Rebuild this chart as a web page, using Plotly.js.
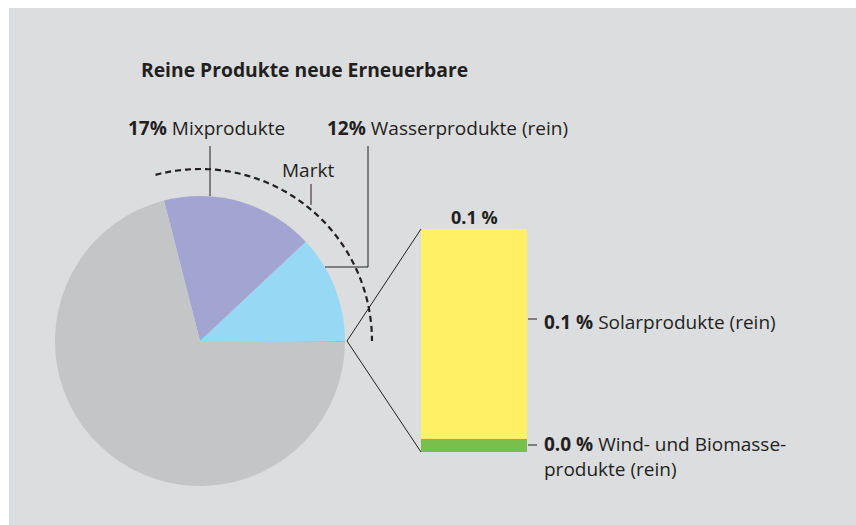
<!DOCTYPE html>
<html>
<head>
<meta charset="utf-8">
<script src="https://cdn.plot.ly/plotly-3.0.1.min.js"></script>
<style>html,body{margin:0;padding:0;background:#fff;}#chart{width:856px;height:525px;}</style>
</head>
<body>
<div id="chart"></div>
<script>
// ---- data ----
const pieLabels = ["Solar/Wind/Biomasse (rein)", "Wasserprodukte (rein)", "Mixprodukte", "Übriger Markt"];
const pieValues = [0.1, 12, 17, 70.9];
const pieColors = ["#f4a64a", "#97d9f4", "#a2a5d1", "#c4c5c7"];

const barCategory = ["0.1 %"];
const barSeries = ["Wind- und Biomasseprodukte (rein)", "Solarprodukte (rein)"];
const barValues = [0.006, 0.094];
const barColors = ["#79bf4c", "#fff066"];

const W = 856, H = 525;
const px = x => x / W;
const py = y => 1 - y / H;
const ink = "#231f20";
const FONT = "Open Sans, Noto Sans, sans-serif";

const traces = [
  {
    type: "pie",
    values: pieValues,
    labels: pieLabels,
    marker: {colors: pieColors, line: {width: 0}},
    sort: false,
    direction: "counterclockwise",
    rotation: 90,
    textinfo: "none",
    hoverinfo: "none",
    domain: {x: [px(55), px(345)], y: [py(486), py(196)]},
    showlegend: false
  }
];
barSeries.forEach((name, i) => {
  traces.push({
    type: "bar",
    x: [0],
    y: [barValues[i]],
    width: [1],
    name: name,
    marker: {color: barColors[i], line: {width: 0}},
    hoverinfo: "none",
    showlegend: false,
    xaxis: "x",
    yaxis: "y"
  });
});

// dashed "Markt" arc around the pie
const cx = 200, cy = 341, rArc = 172;
let arcPath = "";
for (let a = 105; a >= 0; a -= 1.5) {
  const t = a * Math.PI / 180;
  const x = cx + rArc * Math.cos(t), y = cy - rArc * Math.sin(t);
  arcPath += (arcPath ? " L " : "M ") + px(x).toFixed(5) + "," + py(y).toFixed(5);
}

const line = (x0, y0, x1, y1, extra) => Object.assign({
  type: "line", xref: "paper", yref: "paper",
  x0: px(x0), y0: py(y0), x1: px(x1), y1: py(y1),
  line: {color: ink, width: 1}
}, extra || {});

const shapes = [
  {type: "rect", xref: "paper", yref: "paper", x0: px(9), x1: 1, y0: 0, y1: py(8),
   fillcolor: "#dcdddf", line: {width: 0}, layer: "below"},
  {type: "path", xref: "paper", yref: "paper", path: arcPath,
   line: {color: ink, width: 2.2, dash: "6px,4px"}},
  line(210, 146, 210, 196),
  line(368, 146, 368, 267),
  line(368, 267, 325, 267),
  line(311, 184, 311, 205),
  line(347, 341, 421, 229),
  line(347, 341, 421, 452),
  line(528, 319, 537, 319),
  line(528, 445, 537, 445)
];

const ann = (x, y, text, size, anchor) => ({
  xref: "paper", yref: "paper", x: px(x), y: py(y), text: text,
  showarrow: false, xanchor: anchor || "left", yanchor: "middle",
  font: {family: FONT, size: size || 19, color: ink}
});

const annotations = [
  ann(139, 70, "<b>Reine Produkte neue Erneuerbare</b>", 19.3),
  ann(126, 128, "<b>17%</b> Mixprodukte"),
  ann(325, 128, "<b>12%</b> Wasserprodukte (rein)"),
  ann(280, 170, "Markt"),
  ann(474, 217, "<b>" + barCategory[0] + "</b>", 18, "center"),
  ann(542, 322, "<b>0.1 %</b> Solarprodukte (rein)"),
  Object.assign(ann(542, 456, "<b>0.0 %</b> Wind- und Biomasse-<br>produkte (rein)"), {align: "left"})
];

const layout = {
  width: W, height: H,
  margin: {l: 0, r: 0, t: 0, b: 0, pad: 0},
  paper_bgcolor: "#ffffff",
  plot_bgcolor: "rgba(0,0,0,0)",
  barmode: "stack",
  bargap: 0,
  xaxis: {type: "linear", domain: [px(421), px(527)], range: [-0.5, 0.5], visible: false, fixedrange: true},
  yaxis: {domain: [py(452), py(229)], range: [0, 0.1], visible: false, fixedrange: true},
  shapes: shapes,
  annotations: annotations,
  font: {family: FONT, color: ink},
  showlegend: false
};

Plotly.newPlot("chart", traces, layout, {staticPlot: true, displayModeBar: false});
</script>
</body>
</html>
